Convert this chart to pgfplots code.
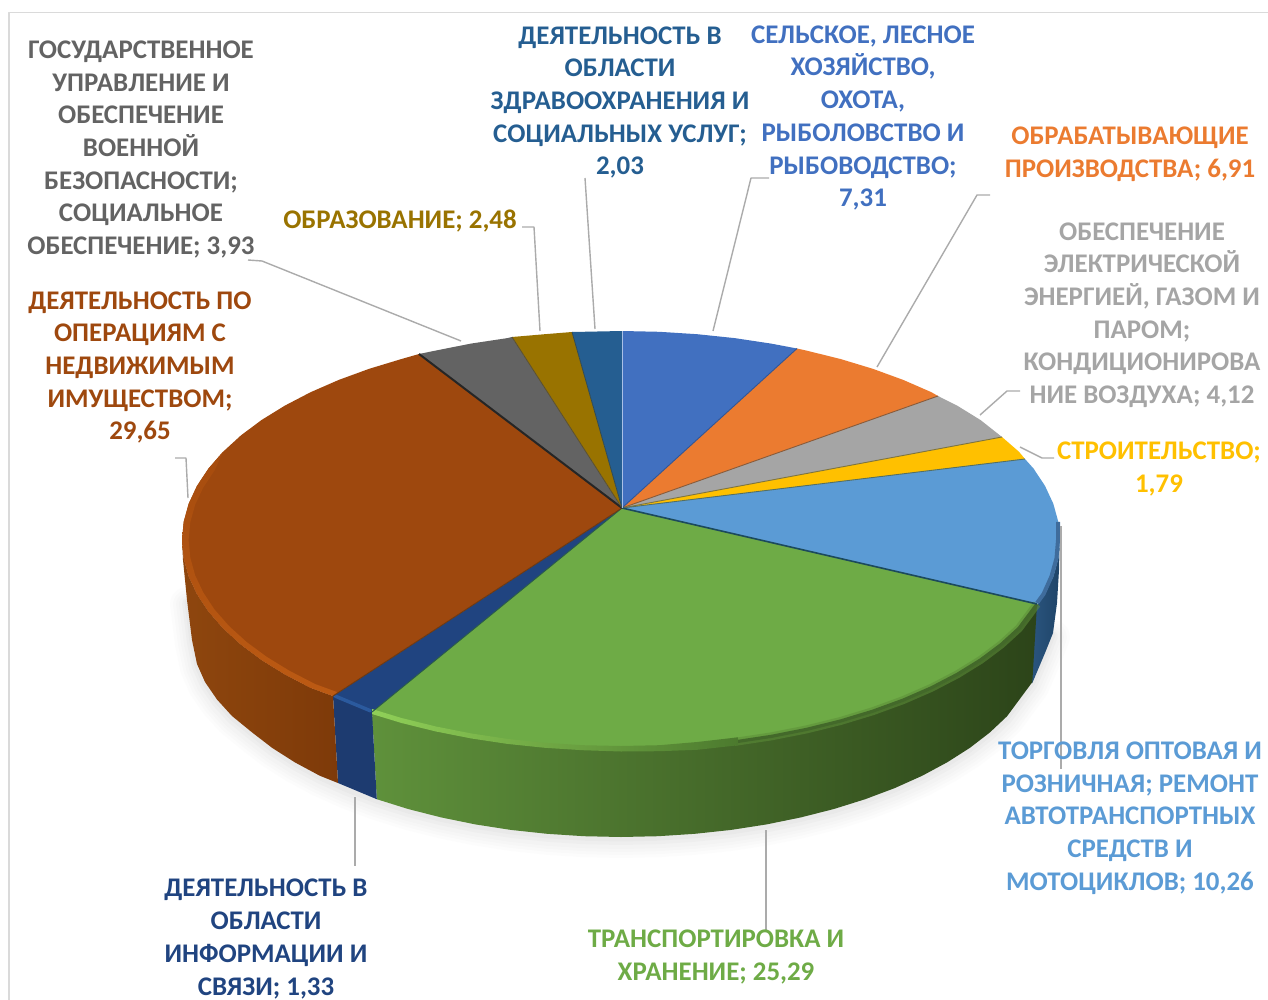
\documentclass[border=0pt]{standalone}
\usepackage{fontspec}
\setmainfont{Carlito}
\usepackage{pgfplots}
\usepackage{pgfplotstable}
\pgfplotsset{compat=1.18}
\definecolor{cBlue}{HTML}{4170C0}
\definecolor{cOrange}{HTML}{EB7B30}
\definecolor{cGray}{HTML}{A5A5A5}
\definecolor{cYellow}{HTML}{FFC000}
\definecolor{cSky}{HTML}{5B9BD5}
\definecolor{cGreen}{HTML}{6EAB46}
\definecolor{cNavy}{HTML}{204480}
\definecolor{cBrown}{HTML}{9E480E}
\definecolor{cDark}{HTML}{636363}
\definecolor{cGold}{HTML}{997300}
\definecolor{cSteel}{HTML}{255E91}
\definecolor{cLead}{HTML}{ABABAB}
\definecolor{cFrame}{HTML}{DADADA}
% wall and rim shades
\definecolor{wSkyL}{HTML}{2B5680}
\definecolor{wSkyR}{HTML}{1F4468}
\definecolor{wGrnL}{HTML}{5F913B}
\definecolor{wGrnM}{HTML}{355322}
\definecolor{wGrnR}{HTML}{2C4419}
\definecolor{wNavy}{HTML}{1D3B70}
\definecolor{wBrnL}{HTML}{8E460E}
\definecolor{wBrnR}{HTML}{7E3A09}
\definecolor{rGrnL}{HTML}{90D058}
\definecolor{rGrnR}{HTML}{4C7A2E}
\definecolor{rGrnS}{HTML}{5D8E39}
\definecolor{rGrnD}{HTML}{43692A}
\definecolor{rBrnT}{HTML}{A64C0E}
\definecolor{rBrnB}{HTML}{BC5A13}
\definecolor{rNavy}{HTML}{2B5A9E}
\definecolor{rSky}{HTML}{3F6C9C}
% separators
\definecolor{s1}{HTML}{2F5597}
\definecolor{s2}{HTML}{8A5A38}
\definecolor{s3}{HTML}{7D7440}
\definecolor{s4}{HTML}{566F60}
\definecolor{s5}{HTML}{1C4A5C}
\definecolor{s6}{HTML}{2A5C48}
\definecolor{s7}{HTML}{6E3A12}
\definecolor{s8}{HTML}{262626}
\definecolor{s9}{HTML}{5A5030}
\definecolor{s10}{HTML}{334A50}
\definecolor{s11}{HTML}{A9C0E6}
\tikzset{lab/.style={text=#1, inner sep=0pt, align=center, yshift=-2.5pt, font=\fontsize{26.9}{32.7}\selectfont\bfseries}}

% lower edge of the pie, used for the soft shadow
\pgfplotstableread{
x y
187 600
192 640
197 664
205 682
217 699.5
232 716
252.2 732.5
272.2 747.9
294.8 762.3
319.9 775.8
347.3 788.1
376.8 799.2
408.1 809
441.1 817.4
475.4 824.4
510.8 829.9
547.1 833.8
583.8 836.2
621 837
658.2 836.2
694.9 833.8
731.2 829.9
766.6 824.4
800.9 817.4
833.9 809
865.2 799.2
894.7 788.1
922.1 775.8
947.2 762.3
969.8 747.9
989.8 732.5
1007 716.3
1032.3 682.1
1045 653
1053 633
}\botarc

\begin{document}
\begin{tikzpicture}
\begin{axis}[
    scale only axis, width=1268pt, height=1000pt,
    xmin=0, xmax=1268, ymin=0, ymax=1000, y dir=reverse,
    hide axis, no markers, line join=round,
]
\path (axis cs:0,0) rectangle (axis cs:1268,1000);
% frame
\addplot[cFrame, line width=1.5pt] coordinates {(9,1000) (9,12.5) (1268,12.5)};

% shadow
\addplot[gray, line cap=round, line width=34pt, draw opacity=.022, yshift=-4pt] table {\botarc};
\addplot[gray, line cap=round, line width=28pt, draw opacity=.022, yshift=-4pt] table {\botarc};
\addplot[gray, line cap=round, line width=22pt, draw opacity=.025, yshift=-4pt] table {\botarc};
\addplot[gray, line cap=round, line width=16pt, draw opacity=.03, yshift=-4pt] table {\botarc};
\addplot[gray, line cap=round, line width=10pt, draw opacity=.04, yshift=-3pt] table {\botarc};
\addplot[gray, line cap=round, line width=5pt, draw opacity=.05, yshift=-2pt] table {\botarc};

% walls
\addplot[draw=none, shade, left color=wSkyL, right color=wSkyR] coordinates {
    (1030,606) (1037,606) (1045,594.1) (1053.3,576.3) (1058.3,558.2) (1060,540) (1060,530)
    (1059,570) (1057,603) (1053,633) (1045,653) (1032.3,683) (1030,683)
};
\addplot[draw=none, shade, left color=wGrnL, middle color=wGrnM, right color=wGrnR] coordinates {
    (372,712) (401.5,721) (435.5,729.4) (470.9,736.4) (507.4,741.9) (544.8,745.8) (582.7,748.2)
    (621,749) (659.3,748.2) (697.2,745.8) (734.6,741.9) (771.1,736.4) (806.5,729.4) (840.5,721)
    (872.8,711.2) (903.2,700.1) (931.4,687.8) (957.3,674.3) (980.6,659.9) (1001.2,644.5)
    (1018.9,628.3) (1037,604)
    (1032.3,682.1) (1007,716.3) (989.8,732.5) (969.8,747.9) (947.2,762.3) (922.1,775.8)
    (894.7,788.1) (865.2,799.2) (833.9,809) (800.9,817.4) (766.6,824.4) (731.2,829.9)
    (694.9,833.8) (658.2,836.2) (621,837) (583.8,836.2) (547.1,833.8) (510.8,829.9)
    (475.4,824.4) (441.1,817.4) (408.1,809) (376.8,799.2)
};
\addplot[draw=none, fill=wNavy] coordinates {
    (333,696) (372,712) (376.8,799.2) (338,783)
};
\addplot[draw=none, shade, left color=wBrnL, right color=wBrnR] coordinates {
    (182,540) (183.7,558.2) (188.7,576.3) (197,594.1) (208.5,611.5) (223.1,628.3) (240.8,644.5)
    (261.4,659.9) (284.7,674.3) (310.6,687.8) (333,696)
    (338,783) (319.9,775.8) (294.8,762.3) (272.2,747.9) (252.2,732.5) (232,716) (217,699.5)
    (205,682) (197,664) (192,640) (187,600) (183,560)
};

% top faces
\addplot[draw=none, fill=cBlue] coordinates {
    (622,508) (622,331) (659.3,331.8) (697.2,334.2) (734.6,338.1) (771.1,343.6) (797,348.5)
};
\addplot[draw=none, fill=cOrange] coordinates {
    (622,508) (797,348.5) (806.5,350.6) (840.5,359) (872.8,368.8) (903.2,379.9) (931.4,392.2) (938,396)
};
\addplot[draw=none, fill=cGray] coordinates {
    (622,508) (938,396) (957.3,405.7) (980.6,420.1) (1002,437)
};
\addplot[draw=none, fill=cYellow] coordinates {
    (622,508) (1002,437) (1018.9,451.7) (1025,459)
};
\addplot[draw=none, fill=cSky] coordinates {
    (622,508) (1025,459) (1033.5,468.5) (1045,485.9) (1053.3,503.7) (1058.3,521.8) (1060,540)
    (1058.3,558.2) (1053.3,576.3) (1045,594.1) (1037,604)
};
\addplot[draw=none, fill=cGreen] coordinates {
    (622,508) (1037,604) (1018.9,628.3) (1001.2,644.5) (980.6,659.9) (957.3,674.3) (931.4,687.8)
    (903.2,700.1) (872.8,711.2) (840.5,721) (806.5,729.4) (771.1,736.4) (734.6,741.9) (697.2,745.8)
    (659.3,748.2) (621,749) (582.7,748.2) (544.8,745.8) (507.4,741.9) (470.9,736.4) (435.5,729.4)
    (401.5,721) (372,712)
};
\addplot[draw=none, fill=cNavy] coordinates {
    (622,508) (372,712) (333,696)
};
\addplot[draw=none, fill=cBrown] coordinates {
    (622,508) (333,696) (310.6,687.8) (284.7,674.3) (261.4,659.9) (240.8,644.5) (223.1,628.3)
    (208.5,611.5) (197,594.1) (188.7,576.3) (183.7,558.2) (182,540) (183.7,521.8) (188.7,503.7)
    (197,485.9) (208.5,468.5) (223.1,451.7) (240.8,435.5) (261.4,420.1) (284.7,405.7) (310.6,392.2)
    (338.8,379.9) (369.2,368.8) (401.5,359) (419,354)
};
\addplot[draw=none, fill=cDark] coordinates {
    (622,508) (419,354) (435.5,350.6) (470.9,343.6) (507.4,338.1) (512,337)
};
\addplot[draw=none, fill=cGold] coordinates {
    (622,508) (512,337) (544.8,334.2) (572,332)
};
\addplot[draw=none, fill=cSteel] coordinates {
    (622,508) (572,332) (582.7,331.8) (622,331)
};

% rim highlights
\addplot[rGrnS, line width=8pt, draw opacity=.55] coordinates {
    (734.6,741.9) (771.1,736.4) (806.5,729.4) (840.5,721) (872.8,711.2) (903.2,700.1) (931.4,687.8)
    (957.3,674.3) (980.6,659.9) (1001.2,644.5) (1018.9,628.3) (1037,604)
};
\addplot[rGrnD, line width=3.2pt] coordinates {
    (734.6,741.9) (771.1,736.4) (806.5,729.4) (840.5,721) (872.8,711.2) (903.2,700.1) (931.4,687.8)
    (957.3,674.3) (980.6,659.9) (1001.2,644.5) (1018.9,628.3) (1037,604)
};
\addplot[draw=none, shade, left color=rGrnL, right color=rGrnR] coordinates {
    (372,709) (401.5,718) (435.5,726.4) (470.9,733.4) (507.4,738.9) (544.8,742.8) (582.7,745.2)
    (621,746) (659.3,745.2) (697.2,742) (738,737.3)
    (738,745.3) (697.2,749.8) (659.3,751.2) (621,751.5) (582.7,750.2) (544.8,747.8) (507.4,743.9)
    (470.9,738.4) (435.5,731.4) (401.5,723) (372,714)
};
\addplot[draw=none, shade, top color=rBrnT, bottom color=rBrnB] coordinates {
    (223.1,451.7) (208.5,468.5) (197,485.9) (188.7,503.7) (183.7,521.8) (182,540) (183.7,558.2)
    (188.7,576.3) (197,594.1) (208.5,611.5) (223.1,628.3) (240.8,644.5) (261.4,659.9) (284.7,674.3)
    (310.6,687.8) (333,696) (337,692) (315.3,684.1) (289.7,670.9) (266.8,656.9) (246.5,641.9)
    (229.1,626.1) (214.7,609.7) (203.4,592.7) (195.2,575.4) (190.3,557.7) (188.6,540) (190.3,522.3)
    (195.2,504.6) (203.4,487.3) (214.7,470.3)
};
\addplot[rNavy, line width=3.5pt] coordinates {(335,696) (371,711)};
\addplot[rSky, line width=4pt] coordinates {
    (1058,521.8) (1058,540) (1056.5,558.2) (1051.5,576.3) (1043.5,594.1) (1037,603)
};

% slice separators
\addplot[s1, line width=.9pt] coordinates {(622,508) (797,348.5)};
\addplot[s2, line width=.9pt] coordinates {(622,508) (938,396)};
\addplot[s3, line width=.9pt] coordinates {(622,508) (1002,437)};
\addplot[s4, line width=.9pt] coordinates {(622,508) (1025,459)};
\addplot[s5, line width=1.6pt] coordinates {(622,508) (1037,604)};
\addplot[s6, line width=.9pt] coordinates {(622,508) (372,712)};
\addplot[s7, line width=.9pt] coordinates {(622,508) (333,696)};
\addplot[s8, line width=2pt] coordinates {(622,508) (419,354)};
\addplot[s9, line width=.8pt] coordinates {(622,508) (512,337)};
\addplot[s10, line width=.8pt] coordinates {(622,508) (572,332)};
\addplot[s11, line width=.9pt] coordinates {(622,508) (622,331)};

% leader lines
\addplot[cLead, line width=1.4pt] coordinates {(248,260) (262,261) (461,341)};
\addplot[cLead, line width=1.4pt] coordinates {(522,227) (534,227) (540,331)};
\addplot[cLead, line width=1.4pt] coordinates {(585,178) (595,329)};
\addplot[cLead, line width=1.4pt] coordinates {(713,331) (751,178) (769,178)};
\addplot[cLead, line width=1.4pt] coordinates {(877,367) (977,195) (990,195)};
\addplot[cLead, line width=1.4pt] coordinates {(980,415) (1007,391) (1020,391)};
\addplot[cLead, line width=1.4pt] coordinates {(1020,447) (1042,458) (1054,458)};
\addplot[cLead, line width=1.4pt] coordinates {(1061,526) (1061,769)};
\addplot[cLead, line width=1.4pt] coordinates {(766,830) (766,932)};
\addplot[cLead, line width=1.4pt] coordinates {(355,797) (355,866)};
\addplot[cLead, line width=1.4pt] coordinates {(188,498) (186,458) (175,458)};

\node[lab=cDark] at (axis cs:141,147) {ГОСУДАРСТВЕННОЕ\\УПРАВЛЕНИЕ И\\ОБЕСПЕЧЕНИЕ\\ВОЕННОЙ\\БЕЗОПАСНОСТИ;\\СОЦИАЛЬНОЕ\\ОБЕСПЕЧЕНИЕ; 3,93};
\node[lab=cGold] at (axis cs:400,219) {ОБРАЗОВАНИЕ; 2,48};
\node[lab=cSteel] at (axis cs:620,100) {ДЕЯТЕЛЬНОСТЬ В\\ОБЛАСТИ\\ЗДРАВООХРАНЕНИЯ И\\СОЦИАЛЬНЫХ УСЛУГ;\\2,03};
\node[lab=cBlue] at (axis cs:863,115.5) {СЕЛЬСКОЕ, ЛЕСНОЕ\\ХОЗЯЙСТВО,\\ОХОТА,\\РЫБОЛОВСТВО И\\РЫБОВОДСТВО;\\7,31};
\node[lab=cOrange] at (axis cs:1130,151.5) {ОБРАБАТЫВАЮЩИЕ\\ПРОИЗВОДСТВА; 6,91};
\node[lab=cGray] at (axis cs:1142,312.5) {ОБЕСПЕЧЕНИЕ\\ЭЛЕКТРИЧЕСКОЙ\\ЭНЕРГИЕЙ, ГАЗОМ И\\ПАРОМ;\\КОНДИЦИОНИРОВА\\НИЕ ВОЗДУХА; 4,12};
\node[lab=cYellow] at (axis cs:1159,466.5) {СТРОИТЕЛЬСТВО;\\1,79};
\node[lab=cSky] at (axis cs:1130,815.5) {ТОРГОВЛЯ ОПТОВАЯ И\\РОЗНИЧНАЯ; РЕМОНТ\\АВТОТРАНСПОРТНЫХ\\СРЕДСТВ И\\МОТОЦИКЛОВ; 10,26};
\node[lab=cGreen] at (axis cs:716,954.5) {ТРАНСПОРТИРОВКА И\\ХРАНЕНИЕ; 25,29};
\node[lab=cNavy] at (axis cs:266,936.5) {ДЕЯТЕЛЬНОСТЬ В\\ОБЛАСТИ\\ИНФОРМАЦИИ И\\СВЯЗИ; 1,33};
\node[lab=cBrown] at (axis cs:140,365) {ДЕЯТЕЛЬНОСТЬ ПО\\ОПЕРАЦИЯМ С\\НЕДВИЖИМЫМ\\ИМУЩЕСТВОМ;\\29,65};
\end{axis}
\end{tikzpicture}
\end{document}
